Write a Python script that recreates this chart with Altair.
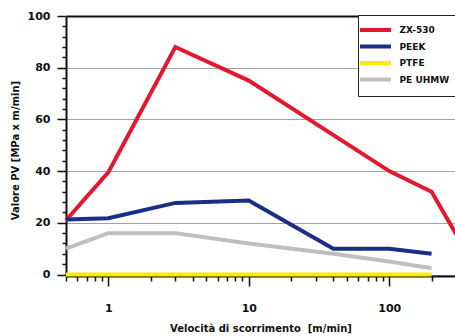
import altair as alt
import pandas as pd

series_names = ["ZX-530", "PEEK", "PTFE", "PE UHMW"]
series_colors = ["#e5172f", "#1c2d86", "#ffec00", "#bfbfbf"]

zx_speed = [0.5, 1, 3, 10, 100, 200, 300]
zx_pv = [21, 39.5, 88, 75, 40, 32, 15.5]

peek_speed = [0.5, 1, 3, 10, 40, 100, 200]
peek_pv = [21.3, 21.8, 27.7, 28.6, 10, 10, 8]

ptfe_speed = [0.5, 1, 3, 10, 40, 100, 200]
ptfe_pv = [0, 0, 0, 0, 0, 0, 0]

pe_speed = [0.5, 1, 3, 10, 40, 100, 200]
pe_pv = [10, 16, 16, 12, 8, 5, 2.4]

x_tick_values = [0.5, 0.6, 0.7, 0.8, 0.9, 1, 2, 3, 4, 5, 6, 7, 8, 9, 10,
                 20, 30, 40, 50, 60, 70, 80, 90, 100, 200]
y_tick_values = list(range(0, 101, 4))

rows = []
for name, xs, ys in [("ZX-530", zx_speed, zx_pv), ("PEEK", peek_speed, peek_pv),
                     ("PTFE", ptfe_speed, ptfe_pv), ("PE UHMW", pe_speed, pe_pv)]:
    for i, (a, b) in enumerate(zip(xs, ys)):
        rows.append({"serie": name, "v": a, "pv": b, "o": i})
df = pd.DataFrame(rows)

FONT = "DejaVu Sans"

x_axis = alt.Axis(
    values=x_tick_values,
    labelExpr="(datum.value == 1 || datum.value == 10 || datum.value == 100) ? datum.label : ''",
    format="~g",
    tickSize={"condition": {"test": "datum.value == 1 || datum.value == 10 || datum.value == 100", "value": 10}, "value": 5},
    tickColor="#111", tickWidth=1.5,
    domainColor="#111", domainWidth=2,
    offset=1.5,
    labelFont=FONT, labelFontWeight="bold", labelFontSize=11, labelColor="#111",
    labelPadding=16, labelBaseline="top",
    title="Velocità di scorrimento\u00a0 [m/min]",
    titleFont=FONT, titleFontWeight="bold", titleFontSize=10, titleColor="#111",
    titleBaseline="middle", titleY=52,
    grid=False, labelFlush=False, labelOverlap=False,
)

y_axis = alt.Axis(
    values=y_tick_values,
    labelExpr="datum.value % 20 === 0 ? datum.label : ''",
    tickSize={"condition": {"test": "datum.value % 20 === 0", "value": 9}, "value": 4},
    tickColor="#111", tickWidth=1.5,
    domainColor="#111", domainWidth=2,
    labelFont=FONT, labelFontWeight="bold", labelFontSize=11, labelColor="#111",
    labelPadding=7,
    title="Valore PV [MPa x m/min]",
    titleFont=FONT, titleFontWeight="bold", titleFontSize=10, titleColor="#111",
    titleAngle=270, titleAlign="center", titleBaseline="middle",
    titleX=-51, titleY=134,
    grid=True,
    gridColor={"condition": {"test": "datum.value == 100", "value": "#111"}, "value": "#444"},
    gridDash={"condition": {"test": "datum.value == 100", "value": [1, 0]}, "value": [1, 1]},
    gridWidth={"condition": {"test": "datum.value == 100", "value": 2}, "value": 1},
    gridOpacity={"condition": {"test": "datum.value % 20 === 0", "value": 1}, "value": 0},
    labelOverlap=False,
)

x_scale = alt.Scale(type="log", domain=[0.5, 293.6], nice=False)
y_scale = alt.Scale(domain=[0, 100], nice=False, zero=False)

legend = alt.Legend(
    title=None,
    orient="none", legendX=292, legendY=-1,
    fillColor="white", strokeColor="#222",
    padding=8,
    symbolType="M-3.1,0L3.1,0",
    symbolSize=100,
    symbolStrokeWidth=4,
    symbolOffset=2.5,
    labelOffset=17,
    rowPadding=0.5,
    labelFont=FONT, labelFontWeight="bold", labelFontSize=9, labelColor="#111",
    labelLimit=200,
)

lines = alt.Chart(df).mark_line(strokeWidth=4).encode(
    x=alt.X("v:Q", scale=x_scale, axis=x_axis),
    y=alt.Y("pv:Q", scale=y_scale, axis=y_axis),
    color=alt.Color("serie:N", scale=alt.Scale(domain=series_names, range=series_colors),
                    legend=legend, sort=series_names),
    order="o:Q",
)

chart = lines.properties(
    width=389, height=258.5,
    padding={"left": 66, "top": 16, "right": 0, "bottom": 61.5},
    autosize=alt.AutoSizeParams(type="none"),
).configure_view(stroke=None)

chart.save("out.html", embed_options={"renderer": "svg", "actions": False})
